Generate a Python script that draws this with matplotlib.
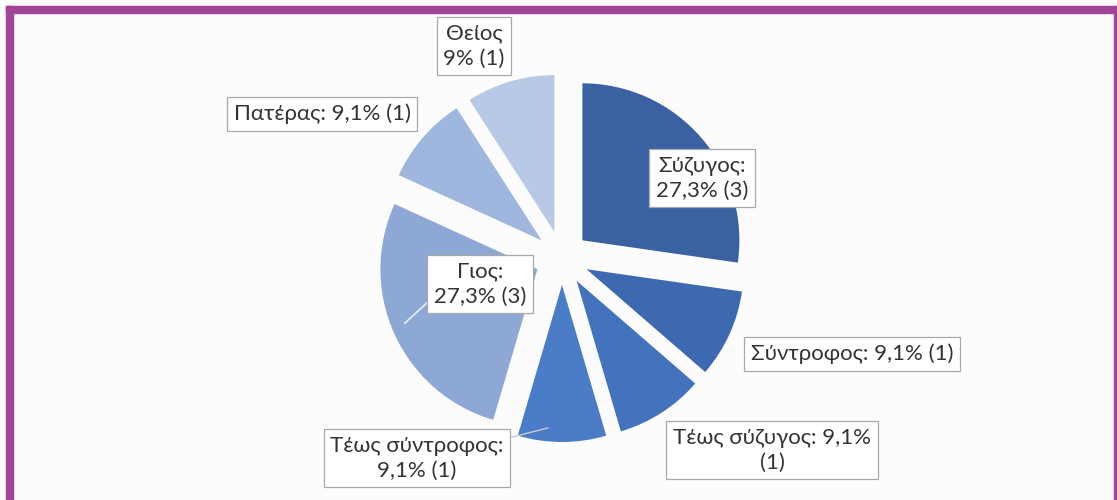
import matplotlib
matplotlib.use("Agg")
import matplotlib.pyplot as plt
from matplotlib.patches import Rectangle

relations = ["Σύζυγος", "Σύντροφος", "Τέως σύζυγος", "Τέως σύντροφος", "Γιος", "Πατέρας", "Θείος"]
counts = [3, 1, 1, 1, 3, 1, 1]
label_texts = [
    "Σύζυγος:\n27,3% (3)",
    "Σύντροφος: 9,1% (1)",
    "Τέως σύζυγος: 9,1%\n(1)",
    "Τέως σύντροφος:\n9,1% (1)",
    "Γιος:\n27,3% (3)",
    "Πατέρας: 9,1% (1)",
    "Θείος\n9% (1)",
]
colors = ["#3A62A2", "#3D69B0", "#4373BD", "#4A7CC8", "#8EA8D6", "#9FB6DE", "#B8C9E6"]

# label box centres, in pixels (y measured from the bottom)
label_pos = [(702, 322), (852, 146), (772, 50), (417, 42), (480, 216), (322, 386), (474, 454)]

W, H = 1117, 500
fig = plt.figure(figsize=(W / 100, H / 100), dpi=100)
fig.patch.set_facecolor("#FCFCFC")
ax = fig.add_axes([0, 0, 1, 1])

radius = 157
ax.pie(counts, colors=colors, startangle=90, counterclock=False,
       center=(562, 242), radius=radius, explode=[27] * len(counts),
       wedgeprops=dict(linewidth=0))

# leader lines
ax.plot([430, 405], [200, 177], color="#E8EEF7", lw=1.2, zorder=3)
ax.plot([508, 548], [62, 72], color="#C8CCD2", lw=1.0, zorder=3)

for txt, (x, y) in zip(label_texts, label_pos):
    ax.text(x, y, txt, ha="center", va="center", fontsize=16, family="Lato",
            color="#333333", linespacing=1.3, zorder=5,
            bbox=dict(boxstyle="square,pad=0.3", facecolor="white",
                      edgecolor="#A8A8A8", linewidth=0.9))

# purple frame
frame_col = "#A0449A"
ax.add_patch(Rectangle((6, H - 13), W - 6, 7, color=frame_col, zorder=10))
ax.add_patch(Rectangle((6, 0), 7, H - 6, color=frame_col, zorder=10))
ax.add_patch(Rectangle((W - 3, 0), 3, H - 6, color=frame_col, zorder=10))

ax.set_xlim(0, W)
ax.set_ylim(0, H)
ax.set_aspect("auto")
ax.axis("off")

fig.savefig("out.png", dpi=100, facecolor=fig.get_facecolor())
